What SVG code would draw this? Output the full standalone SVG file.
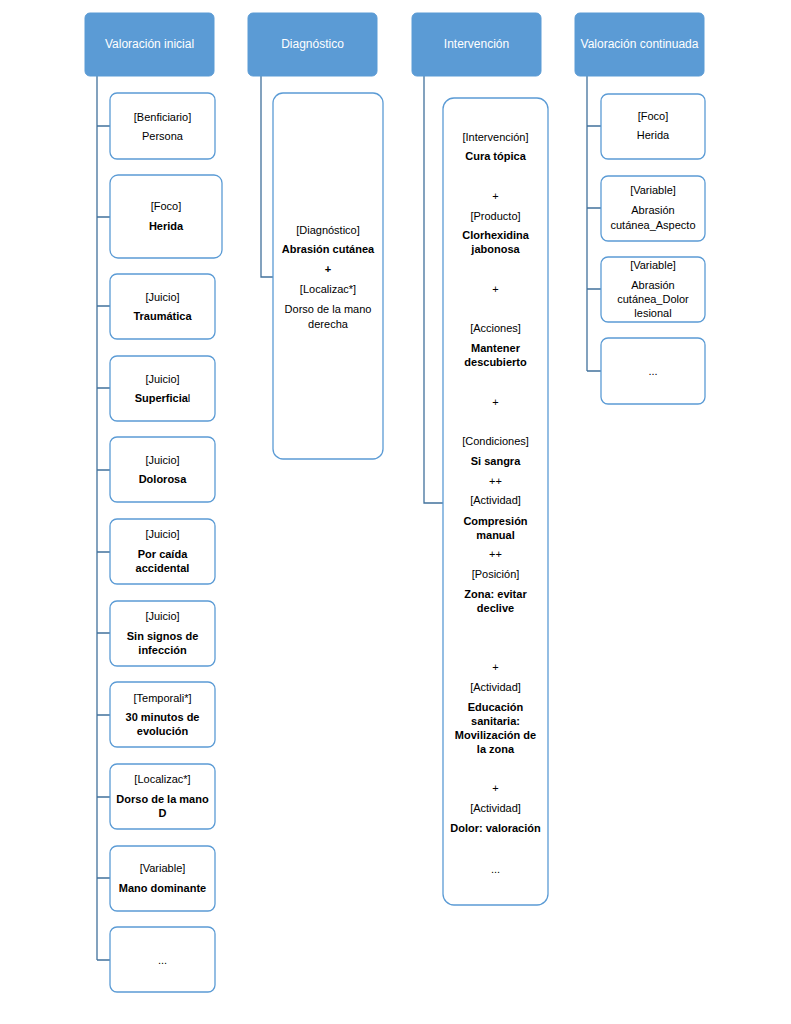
<svg xmlns="http://www.w3.org/2000/svg" width="791" height="1024" viewBox="0 0 791 1024">
<style>
.hdr{fill:#5B9BD5;stroke:#5B9BD5;stroke-width:1}
.box{fill:#FFFFFF;stroke:#5B9BD5;stroke-width:1.3}
.conn{fill:none;stroke:#41719C;stroke-width:1.3}
text{font-family:"Liberation Sans",Arial,sans-serif;font-size:11px;text-anchor:middle;fill:#000}
.ht{fill:#FFFFFF;font-size:12px}
.b{font-weight:bold}
</style>
<rect width="791" height="1024" fill="#FFFFFF"/>
<g id="connectors">
<path class="conn" d="M97,76 V960 M97,126 H110 M97,217 H110 M97,306 H110 M97,388 H110 M97,470 H110 M97,552 H110 M97,633 H110 M97,715 H110 M97,797 H110 M97,878 H110 M97,960 H110"/>
<path class="conn" d="M261,76 V277 H273"/>
<path class="conn" d="M424,76 V503 H443"/>
<path class="conn" d="M587,76 V371 M587,126 H601 M587,208 H601 M587,289 H601 M587,371 H601"/>
</g>
<g id="h1"><rect class="hdr" x="85" y="13" width="129" height="63" rx="5"/><text class="ht" x="149.5" y="48">Valoración inicial</text></g>
<g id="h2"><rect class="hdr" x="248" y="13" width="129" height="63" rx="5"/><text class="ht" x="312.5" y="48">Diagnóstico</text></g>
<g id="h3"><rect class="hdr" x="412" y="13" width="129" height="63" rx="5"/><text class="ht" x="476.5" y="48">Intervención</text></g>
<g id="h4"><rect class="hdr" x="575" y="13" width="129" height="63" rx="5"/><text class="ht" x="639.5" y="48">Valoración continuada</text></g>

<g id="v1"><rect class="box" x="110" y="93" width="105" height="66" rx="7"/><text x="162.5" y="121">[Benficiario]</text><text x="162.5" y="140">Persona</text></g>
<g id="v2"><rect class="box" x="110" y="175" width="112" height="83" rx="8"/><text x="166" y="210">[Foco]</text><text class="b" x="166" y="230">Herida</text></g>
<g id="v3"><rect class="box" x="110" y="274" width="105" height="65" rx="7"/><text x="162.5" y="301">[Juicio]</text><text class="b" x="162.5" y="320">Traumática</text></g>
<g id="v4"><rect class="box" x="110" y="356" width="105" height="65" rx="7"/><text x="162.5" y="383">[Juicio]</text><text x="162.5" y="402"><tspan class="b">Superficia</tspan>l</text></g>
<g id="v5"><rect class="box" x="110" y="437" width="105" height="65" rx="7"/><text x="162.5" y="464">[Juicio]</text><text class="b" x="162.5" y="483">Dolorosa</text></g>
<g id="v6"><rect class="box" x="110" y="519" width="105" height="65" rx="7"/><text x="162.5" y="538">[Juicio]</text><text class="b" x="162.5" y="558">Por caída</text><text class="b" x="162.5" y="572">accidental</text></g>
<g id="v7"><rect class="box" x="110" y="601" width="105" height="65" rx="7"/><text x="162.5" y="620">[Juicio]</text><text class="b" x="162.5" y="640">Sin signos de</text><text class="b" x="162.5" y="654">infección</text></g>
<g id="v8"><rect class="box" x="110" y="682" width="105" height="65" rx="7"/><text x="162.5" y="702">[Temporali*]</text><text class="b" x="162.5" y="721">30 minutos de</text><text class="b" x="162.5" y="735">evolución</text></g>
<g id="v9"><rect class="box" x="110" y="764" width="105" height="65" rx="7"/><text x="162.5" y="783">[Localizac*]</text><text class="b" x="162.5" y="803">Dorso de la mano</text><text class="b" x="162.5" y="817">D</text></g>
<g id="v10"><rect class="box" x="110" y="846" width="105" height="65" rx="7"/><text x="162.5" y="872">[Variable]</text><text class="b" x="162.5" y="892">Mano dominante</text></g>
<g id="v11"><rect class="box" x="110" y="927" width="105" height="65" rx="7"/><text x="162.5" y="964">...</text></g>

<g id="d1"><rect class="box" x="273" y="93" width="110" height="366" rx="10"/>
<text x="328" y="234">[Diagnóstico]</text>
<text class="b" x="328" y="253">Abrasión cutánea</text>
<text class="b" x="328" y="273">+</text>
<text x="328" y="293">[Localizac*]</text>
<text x="328" y="313">Dorso de la mano</text>
<text x="328" y="328">derecha</text></g>

<g id="i1"><rect class="box" x="443" y="98" width="105" height="807" rx="11"/>
<text x="495.5" y="141">[Intervención]</text>
<text class="b" x="495.5" y="160">Cura tópica</text>
<text x="495.5" y="200">+</text>
<text x="495.5" y="220">[Producto]</text>
<text class="b" x="495.5" y="239">Clorhexidina</text>
<text class="b" x="495.5" y="253">jabonosa</text>
<text x="495.5" y="293">+</text>
<text x="495.5" y="332">[Acciones]</text>
<text class="b" x="495.5" y="352">Mantener</text>
<text class="b" x="495.5" y="366">descubierto</text>
<text x="495.5" y="406">+</text>
<text x="495.5" y="445">[Condiciones]</text>
<text class="b" x="495.5" y="465">Si sangra</text>
<text x="495.5" y="485">++</text>
<text x="495.5" y="504">[Actividad]</text>
<text class="b" x="495.5" y="525">Compresión</text>
<text class="b" x="495.5" y="539">manual</text>
<text x="495.5" y="558">++</text>
<text x="495.5" y="578">[Posición]</text>
<text class="b" x="495.5" y="598">Zona: evitar</text>
<text class="b" x="495.5" y="612">declive</text>
<text x="495.5" y="671">+</text>
<text x="495.5" y="691">[Actividad]</text>
<text class="b" x="495.5" y="711">Educación</text>
<text class="b" x="495.5" y="725">sanitaria:</text>
<text class="b" x="495.5" y="739">Movilización de</text>
<text class="b" x="495.5" y="753">la zona</text>
<text x="495.5" y="792">+</text>
<text x="495.5" y="812">[Actividad]</text>
<text class="b" x="495.5" y="832">Dolor: valoración</text>
<text x="495.5" y="873">...</text></g>

<g id="c1"><rect class="box" x="601" y="94" width="104" height="65" rx="7"/><text x="653" y="120">[Foco]</text><text x="653" y="139">Herida</text></g>
<g id="c2"><rect class="box" x="601" y="176" width="104" height="65" rx="7"/><text x="653" y="194">[Variable]</text><text x="653" y="214">Abrasión</text><text x="653" y="229">cutánea_Aspecto</text></g>
<g id="c3"><rect class="box" x="601" y="257" width="104" height="65" rx="7"/><text x="653" y="269">[Variable]</text><text x="653" y="289">Abrasión</text><text x="653" y="303">cutánea_Dolor</text><text x="653" y="317">lesional</text></g>
<g id="c4"><rect class="box" x="601" y="338" width="104" height="66" rx="7"/><text x="653" y="375">...</text></g>
</svg>
